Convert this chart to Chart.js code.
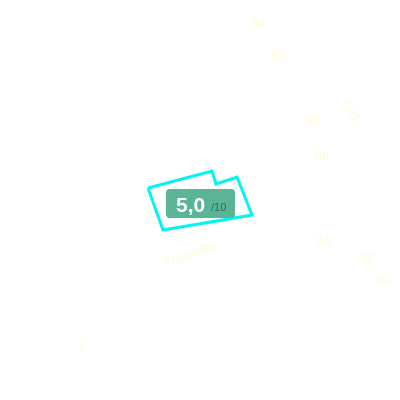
<!DOCTYPE html>
<html lang="fr">
<head>
  <meta charset="UTF-8">
  <title>Note</title>
  <style>
    body {
      margin: 0;
      padding: 0;
      background: #ffffff;
      font-family: "Liberation Sans", Arial, sans-serif;
    }
    .chart-container {
      width: 400px;
      height: 400px;
    }
  </style>
</head>
<body>
  <div class="chart-container">
    <canvas id="noteChart"></canvas>
  </div>

  <script src="https://cdn.jsdelivr.net/npm/chart.js"></script>
  <script>
    // contour de la forme
    const shapeX = [-52, 12, 16, 37, 52, -37, -52];
    const shapeY = [12, 29, 16, 23, -15, -30, 12];

    // etiquettes pâles en arrière-plan
    const faintTexts = ['94', '92', '93%', '90', '88', '84', '82', '80', 'Translate', '2'];
    const faintX = [58, 78, 152, 113, 122, 123, 167, 183, -10, -118];
    const faintY = [177, 145, 86, 79, 44, -41, -59, -79, -55, -148];
    const faintAngle = [0, 0, 60, 0, 0, 0, 0, 0, -20, 0];

    // note affichée au centre
    const score = 5.0;
    const scoreMax = 10;

    const centerLabel = {
      id: 'centerLabel',
      afterDatasetsDraw(chart) {
        const ctx = chart.ctx;
        const xs = chart.scales.x, ys = chart.scales.y;
        const cx = xs.getPixelForValue(0), cy = ys.getPixelForValue(0);

        // textes pâles
        const meta = chart.getDatasetMeta(1);
        ctx.save();
        ctx.fillStyle = '#fffbd8';
        ctx.font = '13px "Liberation Sans", Arial, sans-serif';
        ctx.textAlign = 'center';
        ctx.textBaseline = 'middle';
        meta.data.forEach((pt, i) => {
          ctx.save();
          ctx.translate(pt.x, pt.y);
          ctx.rotate(faintAngle[i] * Math.PI / 180);
          ctx.fillText(faintTexts[i], 0, 0);
          ctx.restore();
        });
        ctx.restore();

        // boîte de la note
        const main = score.toFixed(1).replace('.', ',');
        ctx.save();
        ctx.fillStyle = '#59b596';
        ctx.beginPath();
        ctx.roundRect(cx - 34, cy - 11, 69, 29, 4);
        ctx.fill();
        ctx.textBaseline = 'alphabetic';
        ctx.textAlign = 'left';
        ctx.fillStyle = '#ffffff';
        ctx.font = 'bold 21px "Liberation Sans", Arial, sans-serif';
        ctx.fillText(main, cx - 24, cy + 12);
        ctx.fillStyle = '#2f6b5c';
        ctx.font = '11px "Liberation Sans", Arial, sans-serif';
        ctx.fillText('/' + scoreMax, cx + 11, cy + 11);
        ctx.restore();
      }
    };

    new Chart(document.getElementById('noteChart').getContext('2d'), {
      type: 'scatter',
      data: {
        datasets: [{
          data: shapeX.map((x, i) => ({ x: x, y: shapeY[i] })),
          showLine: true,
          borderColor: '#00f5f5',
          borderWidth: 3,
          pointRadius: 0,
          fill: false,
          tension: 0
        }, {
          data: faintX.map((x, i) => ({ x: x, y: faintY[i] })),
          pointRadius: 0,
          showLine: false
        }]
      },
      options: {
        responsive: true,
        maintainAspectRatio: false,
        animation: false,
        layout: { padding: 0 },
        scales: {
          x: { display: false, min: -200, max: 200 },
          y: { display: false, min: -200, max: 200 }
        },
        plugins: {
          legend: { display: false },
          tooltip: { enabled: false }
        }
      },
      plugins: [centerLabel]
    });
  </script>
</body>
</html>
